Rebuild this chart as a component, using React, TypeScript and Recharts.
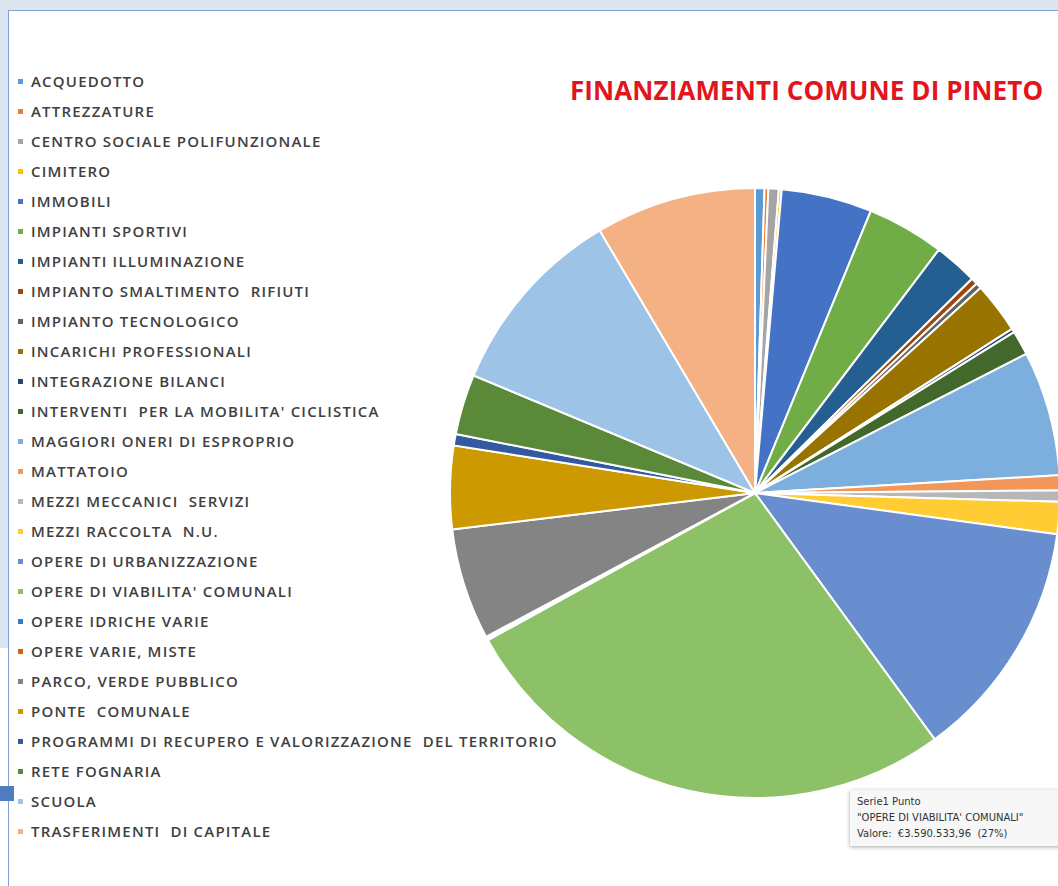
import { Cell, Legend, Pie, PieChart, Tooltip } from "recharts";

const categories = [
  "ACQUEDOTTO",
  "ATTREZZATURE",
  "CENTRO SOCIALE POLIFUNZIONALE",
  "CIMITERO",
  "IMMOBILI",
  "IMPIANTI SPORTIVI",
  "IMPIANTI ILLUMINAZIONE",
  "IMPIANTO SMALTIMENTO  RIFIUTI",
  "IMPIANTO TECNOLOGICO",
  "INCARICHI PROFESSIONALI",
  "INTEGRAZIONE BILANCI",
  "INTERVENTI  PER LA MOBILITA' CICLISTICA",
  "MAGGIORI ONERI DI ESPROPRIO",
  "MATTATOIO",
  "MEZZI MECCANICI  SERVIZI",
  "MEZZI RACCOLTA  N.U.",
  "OPERE DI URBANIZZAZIONE",
  "OPERE DI VIABILITA' COMUNALI",
  "OPERE IDRICHE VARIE",
  "OPERE VARIE, MISTE",
  "PARCO, VERDE PUBBLICO",
  "PONTE  COMUNALE",
  "PROGRAMMI DI RECUPERO E VALORIZZAZIONE  DEL TERRITORIO",
  "RETE FOGNARIA",
  "SCUOLA",
  "TRASFERIMENTI  DI CAPITALE",
];

// importi in euro (stimati dal grafico)
const values = [
  66500, 26600, 73100, 20000, 638000, 545000, 306000, 46500, 40000, 359000,
  26600, 173000, 878000, 106000, 80000, 226000, 1702000, 3590533.96, 13300,
  13300, 785000, 585000, 80000, 425000, 1356000, 1130000,
];

const colors = [
  "#5B9BD5", "#ED7D31", "#A5A5A5", "#FFC000", "#4472C4", "#70AD47",
  "#255E91", "#9E480E", "#636363", "#997300", "#264478", "#43682B",
  "#7CAFDD", "#F1975A", "#B7B7B7", "#FFCD33", "#698ED0", "#8CC168",
  "#327DC2", "#D26012", "#848484", "#CC9A00", "#335AA1", "#5A8A39",
  "#9DC3E6", "#F4B183",
];

const data = categories.map((name, i) => ({ name, value: values[i] }));
const total = values.reduce((a, b) => a + b, 0);

const formatEuro = (v: number) =>
  "€" +
  v.toLocaleString("it-IT", { minimumFractionDigits: 2, maximumFractionDigits: 2 });

function LegendList() {
  return (
    <div>
      {categories.map((c, i) => (
        <div
          key={c}
          style={{ height: 30, display: "flex", alignItems: "center", whiteSpace: "pre" }}
        >
          <span
            style={{
              width: 5,
              height: 5,
              background: colors[i],
              display: "inline-block",
              marginRight: 8,
            }}
          />
          <span>{c}</span>
        </div>
      ))}
    </div>
  );
}

function TipBox({ payload }: any) {
  const p = payload && payload[0];
  const name = p ? p.name : categories[17];
  const value = p ? p.value : values[17];
  return (
    <div
      style={{
        background: "#F7F7F7",
        boxShadow: "0 1px 4px rgba(0,0,0,0.35)",
        padding: "4px 7px",
        fontFamily: "'DejaVu Sans', sans-serif",
        fontSize: 10,
        lineHeight: "16px",
        color: "#333",
        whiteSpace: "pre",
        width: 200,
      }}
    >
      <div>{`Serie1 Punto`}</div>
      <div>{`"${name}"`}</div>
      <div>{`Valore:  ${formatEuro(value)}  (${Math.round((value / total) * 100)}%)`}</div>
    </div>
  );
}

export default function App() {
  return (
    <div
      style={{
        position: "absolute",
        left: 0,
        top: 0,
        width: 1058,
        height: 886,
        overflow: "hidden",
        background: "#fff",
      }}
    >
      {/* cornice della schermata */}
      <div style={{ position: "absolute", left: 0, top: 0, width: 1058, height: 10, background: "#DCE6F1" }} />
      <div style={{ position: "absolute", left: 0, top: 0, width: 8, height: 648, background: "#DCE6F1" }} />
      <div style={{ position: "absolute", left: 8, top: 10, width: 1050, height: 1, background: "#7FA2D0" }} />
      <div style={{ position: "absolute", left: 8, top: 10, width: 1, height: 876, background: "#7FA2D0" }} />
      <div style={{ position: "absolute", left: 0, top: 786, width: 14, height: 15, background: "#4F7EC0" }} />

      <div
        style={{
          position: "absolute",
          left: 570,
          top: 72,
          fontFamily: "'Open Sans', sans-serif",
          fontWeight: 700,
          fontSize: 26,
          letterSpacing: 0.1,
          color: "#E3141C",
          whiteSpace: "nowrap",
        }}
      >
        FINANZIAMENTI COMUNE DI PINETO
      </div>

      <PieChart width={1058} height={886} margin={{ top: 0, right: 0, bottom: 0, left: 0 }}>
        <Pie
          data={data}
          dataKey="value"
          nameKey="name"
          cx={755}
          cy={493}
          outerRadius={305}
          startAngle={90}
          endAngle={-270}
          stroke="#fff"
          strokeWidth={2}
          isAnimationActive={false}
        >
          {data.map((d, i) => (
            <Cell key={d.name} fill={colors[i]} />
          ))}
        </Pie>
        <Legend
          layout="horizontal"
          verticalAlign="bottom"
          content={() => <LegendList />}
          wrapperStyle={{
            left: 18,
            top: 66,
            bottom: "auto",
            width: 600,
            fontFamily: "'Open Sans', sans-serif",
            fontWeight: 600,
            fontSize: 15,
            letterSpacing: 1.2,
            color: "#404040",
          }}
        />
        <Tooltip
          defaultIndex={17}
          active
          position={{ x: 850, y: 790 }}
          content={<TipBox />}
          isAnimationActive={false}
        />
      </PieChart>
    </div>
  );
}
